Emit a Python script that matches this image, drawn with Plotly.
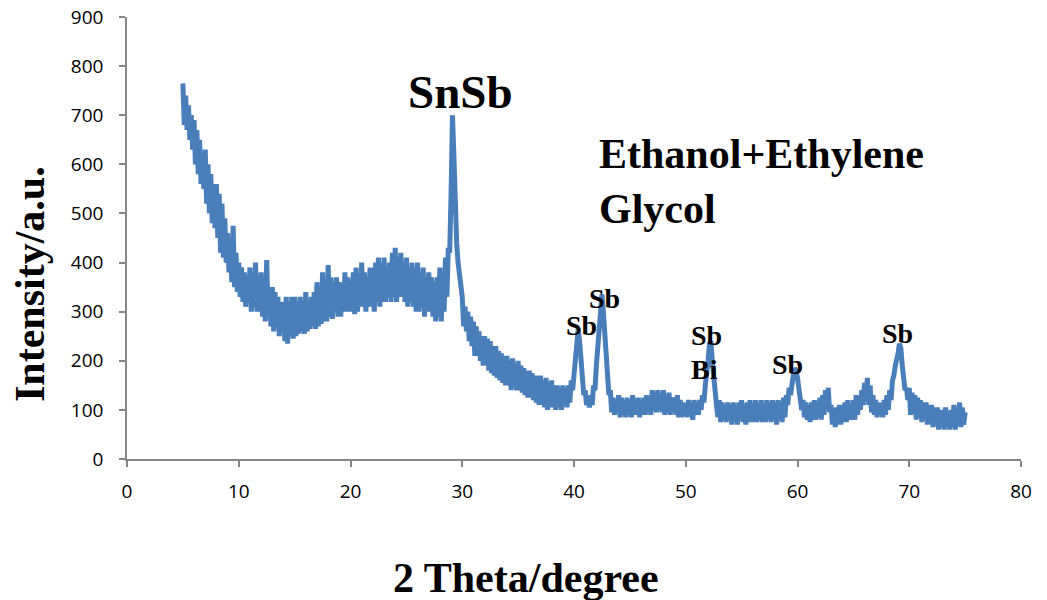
import numpy as np
import plotly.graph_objects as go

# 2-theta sampling grid (degrees): 5.000 .. 75.000, step 0.125
two_theta = np.round(np.arange(5.0, 75.0001, 0.125), 3)

# Intensity, 8 values per degree
intensity = [
    765, 680, 740, 670, 720, 650, 700, 630,   # 5
    690, 600, 670, 580, 650, 560, 620, 550,   # 6
    630, 520, 600, 500, 580, 480, 560, 470,   # 7
    560, 450, 540, 420, 520, 410, 490, 400,   # 8
    460, 380, 440, 360, 475, 350, 420, 340,   # 9
    400, 330, 390, 320, 380, 310, 370, 320,   # 10
    390, 300, 380, 310, 400, 300, 370, 300,   # 11
    380, 290, 360, 280, 405, 290, 350, 270,   # 12
    350, 260, 340, 270, 330, 250, 320, 260,   # 13
    320, 240, 330, 235, 320, 250, 330, 245,   # 14
    330, 250, 320, 255, 330, 260, 310, 255,   # 15
    340, 260, 320, 265, 330, 270, 340, 265,   # 16
    360, 270, 350, 275, 380, 280, 360, 280,   # 17
    395, 290, 370, 285, 360, 300, 370, 290,   # 18
    360, 290, 350, 300, 380, 300, 370, 300,   # 19
    360, 300, 380, 295, 390, 300, 370, 310,   # 20
    400, 310, 380, 300, 370, 310, 390, 310,   # 21
    390, 300, 400, 320, 410, 310, 400, 320,   # 22
    410, 320, 390, 330, 400, 320, 420, 330,   # 23
    430, 320, 410, 330, 420, 330, 400, 320,   # 24
    410, 310, 390, 320, 400, 310, 390, 300,   # 25
    400, 300, 380, 310, 390, 290, 370, 300,   # 26
    380, 300, 370, 290, 360, 280, 370, 290,   # 27
    390, 280, 380, 300, 410, 330, 430, 420,   # 28
    540, 700, 620, 500, 440, 400, 370, 340,   # 29
    330, 270, 310, 260, 300, 240, 290, 230,   # 30
    280, 210, 270, 210, 260, 200, 250, 190,   # 31
    250, 190, 245, 180, 240, 175, 230, 170,   # 32
    230, 165, 220, 160, 215, 155, 210, 150,   # 33
    210, 150, 200, 140, 205, 145, 190, 140,   # 34
    200, 140, 190, 135, 185, 130, 180, 125,   # 35
    180, 125, 175, 120, 170, 115, 170, 110,   # 36
    170, 110, 160, 105, 165, 100, 155, 105,   # 37
    160, 105, 150, 100, 150, 105, 145, 100,   # 38
    150, 110, 145, 105, 150, 115, 160, 140,   # 39
    180, 200, 240, 265, 240, 190, 160, 130,   # 40
    140, 110, 125, 105, 130, 110, 150, 140,   # 41
    190, 230, 270, 320, 335, 300, 250, 200,   # 42
    170, 130, 140, 95, 125, 90, 120, 95,      # 43
    130, 85, 125, 90, 120, 85, 125, 90,       # 44
    120, 85, 130, 90, 120, 90, 125, 85,       # 45
    120, 90, 125, 90, 130, 95, 120, 90,       # 46
    140, 100, 135, 95, 140, 100, 130, 95,     # 47
    140, 90, 130, 95, 135, 90, 125, 95,       # 48
    125, 90, 130, 85, 120, 85, 115, 90,       # 49
    110, 85, 120, 90, 115, 80, 120, 90,       # 50
    115, 90, 120, 100, 130, 115, 150, 170,    # 51
    200, 235, 240, 200, 160, 120, 110, 85,    # 52
    120, 75, 115, 80, 110, 75, 115, 80,       # 53
    110, 70, 115, 75, 110, 70, 115, 80,       # 54
    120, 75, 110, 70, 115, 75, 120, 75,       # 55
    115, 75, 120, 75, 110, 80, 120, 75,       # 56
    110, 75, 120, 80, 115, 75, 120, 80,       # 57
    115, 70, 120, 80, 115, 75, 125, 85,       # 58
    130, 110, 145, 130, 160, 170, 185, 180,   # 59
    165, 140, 130, 100, 120, 85, 115, 80,     # 60
    110, 75, 115, 80, 120, 80, 115, 85,       # 61
    125, 80, 130, 90, 140, 110, 145, 95,      # 62
    110, 70, 100, 65, 105, 70, 110, 70,       # 63
    110, 75, 115, 75, 120, 80, 110, 80,       # 64
    120, 80, 130, 90, 125, 100, 140, 110,     # 65
    155, 120, 165, 110, 150, 95, 130, 90,     # 66
    120, 85, 115, 90, 110, 85, 120, 90,       # 67
    130, 100, 140, 120, 160, 170, 190, 200,   # 68
    215, 235, 225, 190, 165, 140, 145, 120,   # 69
    145, 90, 135, 95, 130, 80, 125, 85,       # 70
    120, 75, 115, 80, 115, 70, 110, 75,       # 71
    110, 65, 105, 70, 105, 60, 100, 65,       # 72
    100, 60, 105, 65, 95, 60, 100, 65,        # 73
    110, 60, 100, 70, 115, 65, 105, 70,       # 74
    95,                                       # 75
]

x_ticks = [0, 10, 20, 30, 40, 50, 60, 70, 80]
y_ticks = [0, 100, 200, 300, 400, 500, 600, 700, 800, 900]

# annotation texts
peak_labels = ["Sb", "Sb", "Sb", "Bi", "Sb", "Sb"]

L, R, T, B = 127, 1021, 17, 459
W, H = 1047, 600


def px(x):
    return (x - L) / (R - L)


def py(y):
    return (B - y) / (B - T)


fig = go.Figure()
fig.add_trace(go.Scatter(
    x=two_theta, y=intensity, mode="lines",
    line=dict(color="#4A7EBB", width=5),
    showlegend=False, hoverinfo="skip",
))

axis_color = "#868686"
fig.update_xaxes(
    range=[0, 80], tickvals=x_ticks, showgrid=False, zeroline=False,
    showline=True, linecolor=axis_color, linewidth=1.5,
    ticks="outside", ticklen=6, tickcolor=axis_color, tickwidth=1.5,
    tickfont=dict(family="Open Sans", size=19, color="#000000"),
    ticklabelstandoff=8, automargin=False,
)
fig.update_yaxes(
    range=[0, 900], tickvals=y_ticks, showgrid=False, zeroline=False,
    showline=True, linecolor=axis_color, linewidth=1.5,
    ticks="outside", ticklen=6, tickcolor=axis_color, tickwidth=1.5,
    tickfont=dict(family="Open Sans", size=19, color="#000000"),
    ticklabelstandoff=12, automargin=False,
)

serif = "Liberation Serif, Times New Roman, serif"
ann = []


def add(text, x, y, size, angle=0, xanchor="center", yanchor="middle", align="center"):
    ann.append(dict(
        text=text, x=px(x), y=py(y), xref="paper", yref="paper",
        showarrow=False, textangle=angle, xanchor=xanchor, yanchor=yanchor,
        align=align,
        font=dict(family=serif, size=size, color="#000000"),
    ))


add("<b>2 Theta/degree</b>", 526, 578, 42)
add("<b>Intensity/a.u.</b>", 30, 284, 42, angle=-90)
add("<b>SnSb</b>", 460, 92, 47)
add("<b>Ethanol+Ethylene</b><br><b>Glycol</b>", 597, 181, 42,
    xanchor="left", align="left")
add("<b>" + peak_labels[0] + "</b>", 581, 325, 28)
add("<b>" + peak_labels[1] + "</b>", 604, 298, 28)
add("<b>" + peak_labels[2] + "</b>", 706, 335, 28)
add("<b>" + peak_labels[3] + "</b>", 704, 369, 28)
add("<b>" + peak_labels[4] + "</b>", 787, 364, 28)
add("<b>" + peak_labels[5] + "</b>", 897, 333, 28)

fig.update_layout(
    width=W, height=H,
    margin=dict(l=L, r=W - R, t=T, b=H - B, autoexpand=False),
    plot_bgcolor="white", paper_bgcolor="white",
    annotations=ann,
)

fig.write_html("out.html")
